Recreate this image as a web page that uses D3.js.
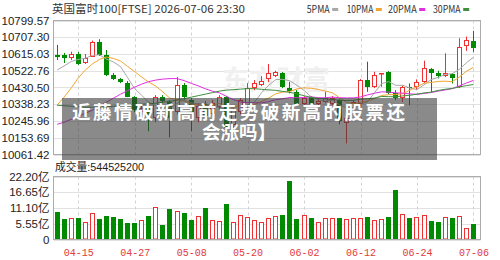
<!DOCTYPE html>
<html><head><meta charset="utf-8">
<script src="https://cdn.jsdelivr.net/npm/d3@7"></script>
<style>html,body{margin:0;padding:0;background:#fff;}svg{display:block;}</style>
</head><body><svg id="c" width="500" height="260"></svg>
<script>
const dates = ["04-10","04-13","04-14","04-15","04-16","04-17","04-20","04-21","04-22","04-23","04-24","04-27","04-28","04-29","04-30","05-01","05-05","05-06","05-07","05-08","05-11","05-12","05-13","05-14","05-15","05-18","05-19","05-20","05-21","05-22","05-26","05-27","05-28","05-29","06-01","06-02","06-03","06-04","06-05","06-08","06-09","06-10","06-11","06-12","06-15","06-16","06-17","06-18","06-19","06-22","06-23","06-24","06-25","06-26","06-29","06-30","07-01","07-02","07-03","07-06"];
const tickDates = ["04-15","04-27","05-08","05-20","06-02","06-12","06-24","07-06"];
const openP = [10609.7,10609.7,10591.4,10615.2,10563.7,10600.3,10681.6,10606.9,10499.0,10476.8,
 10454.7,10377.2,10294.2,10316.3,10261.0,10377.2,10349.5,10294.2,10443.6,10360.6,
 10261.0,10338.5,10283.1,10321.9,10377.2,10222.2,10294.2,10327.4,10427.0,10443.6,
 10475.2,10495.1,10508.4,10425.4,10406.5,10342.3,10375.5,10338.5,10351.2,10342.3,
 10360.6,10233.3,10316.3,10338.5,10471.3,10434.2,10502.8,10513.9,10397.7,10370.0,
 10434.2,10434.2,10461.9,10530.5,10511.7,10493.4,10502.8,10434.2,10659.5,10687.2];
const closeP = [10598.6,10593.1,10615.2,10559.9,10591.4,10678.9,10609.7,10499.0,10476.8,10461.9,
 10378.9,10305.2,10316.3,10277.6,10377.2,10355.1,10261.0,10443.6,10377.2,10294.2,
 10327.4,10272.0,10344.0,10377.2,10205.6,10305.2,10360.6,10427.0,10453.0,10467.4,
 10508.4,10513.9,10434.2,10412.1,10342.3,10370.0,10338.5,10356.7,10370.0,10370.0,
 10244.4,10261.0,10349.5,10471.3,10434.2,10499.0,10508.4,10401.0,10370.0,10434.2,
 10425.4,10461.9,10536.1,10511.7,10493.4,10508.4,10484.0,10655.6,10689.9,10648.4];
const highP = [10665.0,10620.7,10627.9,10626.3,10615.2,10688.8,10696.6,10637.3,10510.0,10482.4,
 10465.8,10382.7,10332.9,10327.4,10388.3,10388.3,10360.6,10487.9,10454.7,10371.7,
 10344.0,10355.1,10360.6,10388.3,10382.7,10316.3,10371.7,10454.7,10471.3,10493.4,
 10559.9,10522.8,10515.6,10461.9,10415.9,10382.7,10382.7,10371.7,10406.5,10382.7,
 10366.1,10294.2,10360.6,10476.8,10572.6,10517.2,10510.0,10521.1,10415.9,10440.9,
 10453.0,10475.2,10578.1,10537.7,10522.8,10619.1,10510.0,10702.1,10711.0,10742.5];
const lowP = [10582.0,10565.4,10582.0,10554.3,10559.9,10598.6,10604.1,10493.4,10471.3,10454.7,
 10377.2,10294.2,10277.6,10189.0,10238.8,10344.0,10155.8,10283.1,10360.6,10189.0,
 10238.8,10249.9,10272.0,10305.2,10194.5,10205.6,10283.1,10316.3,10415.9,10438.1,
 10460.2,10487.9,10427.0,10397.7,10338.5,10327.4,10327.4,10327.4,10344.0,10332.9,
 10227.8,10122.6,10305.2,10327.4,10406.5,10427.0,10434.2,10393.8,10360.6,10351.2,
 10332.9,10415.9,10454.7,10406.5,10480.7,10487.9,10453.0,10427.0,10631.8,10626.3];
// volume in 亿 (1e8)
const volume = [9.62,7.13,7.70,7.70,6.06,9.48,7.13,8.41,8.05,7.13,
 5.81,5.81,6.77,8.41,11.51,5.10,10.80,10.08,9.37,6.77,
 8.41,11.05,6.77,6.52,12.47,6.06,8.77,8.05,6.88,6.06,
 7.70,8.41,8.77,20.5,7.13,8.77,7.48,6.06,7.48,7.48,
 7.48,7.13,7.48,7.48,7.84,6.88,7.13,8.05,17.46,9.01,
 7.70,8.05,8.77,6.41,6.06,8.05,7.70,8.41,3.92,5.445252];
const ma5 = [10526.7,10548.8,10573.7,10584.8,10591.4,10607.5,10610.8,10587.5,10570.9,10545.5,
 10485.1,10424.3,10387.7,10347.9,10331.3,10326.3,10317.4,10342.9,10362.8,10346.2,
 10340.7,10342.9,10323.0,10323.0,10305.2,10300.8,10318.5,10335.1,10350.1,10402.7,
 10443.1,10474.1,10475.2,10467.4,10442.0,10414.3,10379.4,10363.9,10355.6,10361.2,
 10335.7,10320.2,10319.1,10339.0,10352.3,10403.2,10452.5,10463.0,10442.5,10442.5,
 10427.6,10418.7,10445.3,10474.1,10485.7,10502.3,10506.7,10530.5,10566.5,10597.5];
const ma10 = [10332.9,10377.2,10427.0,10482.4,10526.7,10559.9,10584.8,10598.6,10590.3,10576.5,
 10546.6,10517.8,10487.9,10459.7,10438.1,10406.0,10371.1,10365.6,10355.6,10338.5,
 10333.5,10330.2,10332.9,10342.9,10325.7,10320.7,10330.7,10329.1,10336.8,10354.0,
 10372.2,10396.0,10405.4,10408.8,10422.6,10428.7,10426.5,10419.8,10411.5,10401.6,
 10375.0,10350.1,10341.2,10347.3,10356.7,10369.5,10386.6,10391.0,10391.0,10397.1,
 10415.4,10435.3,10454.1,10458.0,10464.1,10465.2,10462.4,10487.9,10520.0,10541.6];
const ma20 = [10227.8,10238.8,10255.4,10272.0,10288.6,10305.2,10327.4,10349.5,10371.7,10393.8,
 10413.2,10432.6,10449.2,10463.0,10471.3,10476.8,10479.6,10479.6,10468.5,10453.6,
 10439.8,10423.7,10410.4,10401.0,10382.2,10363.4,10350.6,10347.3,10346.2,10346.2,
 10352.9,10363.4,10368.9,10375.5,10373.9,10375.0,10378.9,10374.4,10373.9,10377.8,
 10373.9,10373.3,10373.3,10378.3,10389.4,10399.3,10406.5,10405.4,10401.0,10399.3,
 10395.5,10392.7,10397.7,10402.7,10410.4,10417.1,10424.3,10439.2,10455.2,10469.6];
const ma30 = [10332.9,10330.2,10327.4,10324.6,10321.9,10321.9,10321.9,10324.6,10327.4,10330.2,
 10332.9,10335.7,10338.5,10341.2,10344.0,10349.5,10355.1,10360.6,10368.9,10377.2,
 10385.5,10393.8,10402.1,10410.4,10415.9,10418.7,10421.5,10424.3,10424.3,10420.4,
 10417.3,10414.8,10408.8,10403.8,10395.5,10385.0,10376.1,10371.1,10367.8,10364.5,
 10360.0,10358.9,10360.0,10366.1,10368.3,10372.8,10381.1,10380.0,10379.4,10384.4,
 10387.7,10393.8,10400.5,10404.9,10414.3,10420.9,10425.4,10433.1,10440.9,10446.9];
const priceTicks = [10061.42,10153.69,10245.96,10338.23,10430.50,10522.76,10615.03,10707.30,10799.57];
const volTicks = [0,5.55,11.10,16.65,22.20];
const maNames = ["5PMA","10PMA","20PMA","30PMA"];
const maColors = ["#a8a8a8","#f2a531","#e22ee2","#3f8f3f"];
const titleText = "英国富时100[FTSE] 2026-07-06 23:30";
const volLabel = "成交量:544525200";
const bannerLines = ["近藤情破新高前走势破新高的股票还","会涨吗】"];

const RED = "#f03030", GREEN = "#008a00";
const svg = d3.select("#c");
const L = 53.5, R = 480.5, PT = 20.5, PB = 154.5, VT = 176.5, VB = 239.5;
const x = d3.scaleLinear().domain([-0.5, dates.length]).range([L, R]);
const y = d3.scaleLinear().domain([priceTicks[0], priceTicks[priceTicks.length-1]]).range([PB, PT]);
const yv = d3.scaleLinear().domain([0, volTicks[volTicks.length-1]]).range([VB, VT]);
const idx = d3.range(dates.length);
const tickIdx = tickDates.map(d => dates.indexOf(d));
const numFont = "'Liberation Sans', 'Noto Sans CJK SC', sans-serif";

const defs = svg.append("defs");
defs.append("clipPath").attr("id","clipP").append("rect").attr("x",L).attr("y",PT).attr("width",R-L).attr("height",PB-PT);

// grids
const grid = svg.append("g");
grid.selectAll("line.hp").data(priceTicks).join("line")
  .attr("x1",L).attr("x2",R).attr("y1",d=>Math.round(y(d))+0.5).attr("y2",d=>Math.round(y(d))+0.5)
  .attr("stroke","#e2e2e2");
grid.selectAll("line.hv").data(volTicks).join("line").attr("class","hv")
  .attr("x1",L).attr("x2",R).attr("y1",d=>Math.round(yv(d))+0.5).attr("y2",d=>Math.round(yv(d))+0.5)
  .attr("stroke","#e2e2e2");
[[PT,PB],[VT,VB]].forEach(([a,b]) => {
  grid.append("g").selectAll("line").data(tickIdx).join("line")
    .attr("x1",i=>Math.round(x(i))+0.5).attr("x2",i=>Math.round(x(i))+0.5)
    .attr("y1",a).attr("y2",b).attr("stroke","#d2d2d2").attr("stroke-dasharray","3,3");
});

// watermark
svg.append("text").attr("x",222).attr("y",90).text("东方财富")
  .attr("font-family","'Noto Sans CJK SC'").attr("font-size",27).attr("font-weight","bold")
  .attr("fill","#f0f0f0");

// candles
const cg = svg.append("g").attr("clip-path","url(#clipP)");
const cand = cg.selectAll("g.c").data(idx).join("g").attr("class","c");
cand.each(function(i){
  const g = d3.select(this);
  const up = closeP[i] >= openP[i];
  const col = up ? RED : GREEN;
  const bx = Math.round(x(i) - 2.5);
  const cx = bx + 2.5;
  const yt = Math.round(y(Math.max(openP[i], closeP[i])));
  const yb = Math.max(yt + 1, Math.round(y(Math.min(openP[i], closeP[i]))));
  const yh = y(highP[i]), yl = y(lowP[i]);
  if (up) {
    g.append("line").attr("x1",cx).attr("x2",cx).attr("y1",yh).attr("y2",yt).attr("stroke",col);
    g.append("line").attr("x1",cx).attr("x2",cx).attr("y1",yb).attr("y2",yl).attr("stroke",col);
    g.append("rect").attr("x",bx+0.5).attr("y",yt+0.5).attr("width",4).attr("height",Math.max(0.5,yb-yt-1))
      .attr("fill","#fff").attr("stroke",col);
  } else {
    g.append("line").attr("x1",cx).attr("x2",cx).attr("y1",yh).attr("y2",yl).attr("stroke",col);
    g.append("rect").attr("x",bx).attr("y",yt).attr("width",5).attr("height",Math.max(1,yb-yt)).attr("fill",col);
  }
});

// moving averages
const line = d3.line().x((d,i)=>x(i)).y(d=>y(d));
[ma5, ma10, ma20, ma30].forEach((arr,k) => {
  cg.append("path").datum(arr).attr("d",line).attr("fill","none")
    .attr("stroke",maColors[k]).attr("stroke-width",1);
});

// volume bars
const vg = svg.append("g");
vg.selectAll("rect").data(idx).join("rect")
  .each(function(i){
    const up = closeP[i] >= openP[i];
    const bx = Math.round(x(i) - 2.5);
    const top = Math.round(yv(volume[i]));
    const r = d3.select(this);
    if (up) {
      r.attr("x",bx+0.5).attr("y",top+0.5).attr("width",4).attr("height",Math.max(0.5,VB-0.5-top-0.5))
       .attr("fill","#fff").attr("stroke",RED);
    } else {
      r.attr("x",bx).attr("y",top).attr("width",5).attr("height",VB-0.5-top).attr("fill",GREEN);
    }
  });

// borders
svg.append("rect").attr("x",L).attr("y",PT).attr("width",R-L).attr("height",PB-PT).attr("fill","none").attr("stroke","#acacac");
svg.append("rect").attr("x",L).attr("y",VT).attr("width",R-L).attr("height",VB-VT).attr("fill","none").attr("stroke","#acacac");

// axes
const ya = svg.append("g").attr("transform",`translate(${L},0)`)
  .call(d3.axisLeft(y).tickValues(priceTicks).tickFormat(d3.format(".2f")).tickSize(0).tickPadding(4));
const yva = svg.append("g").attr("transform",`translate(${L},0)`)
  .call(d3.axisLeft(yv).tickValues(volTicks).tickFormat(d => d === 0 ? "0" : d3.format(".2f")(d) + "亿").tickSize(0).tickPadding(4));
const xa = svg.append("g").attr("transform",`translate(0,${VB})`)
  .call(d3.axisBottom(x).tickValues(tickIdx).tickFormat(i => dates[i]).tickSize(0).tickPadding(9));
[ya, yva, xa].forEach(a => { a.select(".domain").remove(); });
[ya, yva].forEach(a => a.selectAll("text").attr("font-family",numFont).attr("font-size",11.5).attr("fill","#222"));
xa.selectAll("text").attr("font-family","'Liberation Mono', monospace").attr("font-size",10).attr("fill","#e33a3a");

// title
svg.append("text").attr("x",52).attr("y",12.5).text(titleText)
  .attr("font-family","'Noto Sans CJK SC', sans-serif").attr("font-size",11).attr("fill","#333")
  .attr("textLength",193).attr("lengthAdjust","spacingAndGlyphs");
// legend
const legX = [306.7, 346.7, 388, 433], legW = [23, 26.6, 28.7, 27.7];
maNames.forEach((n,k) => {
  svg.append("text").attr("x",legX[k]).attr("y",12.5).text(n)
    .attr("font-family","'Noto Sans CJK SC', sans-serif").attr("font-size",10).attr("fill","#333")
    .attr("textLength",legW[k]).attr("lengthAdjust","spacingAndGlyphs");
  svg.append("rect").attr("x",legX[k]+legW[k]+2.5).attr("y",8).attr("width",6).attr("height",3).attr("fill",maColors[k]);
});
// volume label
svg.append("text").attr("x",55).attr("y",171).text(volLabel)
  .attr("font-family",numFont).attr("font-size",11.5).attr("fill","#222")
  .attr("textLength",89).attr("lengthAdjust","spacingAndGlyphs");

// banner overlay (one wrapped text block)
svg.append("rect").attr("x",62).attr("y",98).attr("width",375).attr("height",62).attr("fill","rgba(60,60,60,0.6)");
const bt = svg.append("text").attr("text-anchor","middle")
  .attr("font-family","'Noto Sans CJK SC', sans-serif").attr("font-size",18.5).attr("font-weight","bold").attr("fill","#fff");
bt.append("tspan").attr("x",238.5).attr("y",118.5).text(bannerLines[0])
  .attr("textLength",333).attr("lengthAdjust","spacing");
bt.append("tspan").attr("x",239).attr("y",139).text(bannerLines[1]);
</script></body></html>
